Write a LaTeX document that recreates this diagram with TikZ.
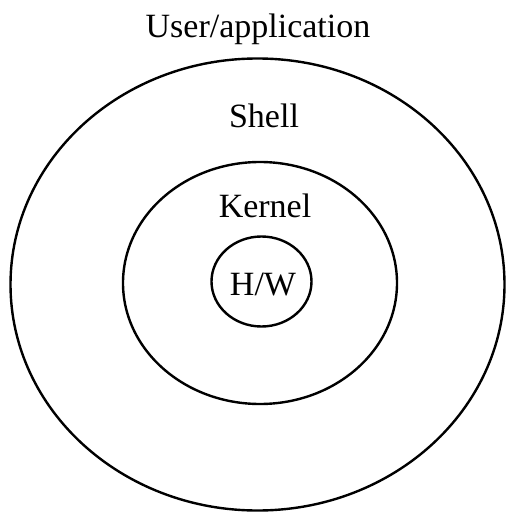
\documentclass[tikz,border=0pt]{standalone}
\usepackage{fontspec}
\setmainfont{Liberation Serif}
\usetikzlibrary{shapes.geometric}
\tikzset{layer/.style={draw=black, line width=2.4pt, ellipse, inner sep=0pt},
         lbl/.style={anchor=base, font=\fontsize{34}{36}\selectfont, inner sep=0pt}}

\begin{document}
\begin{tikzpicture}[x=1pt,y=-1pt]
          \useasboundingbox (0,0) rectangle (508,513);
          %layers, outside in
          \node[layer, minimum width=494pt, minimum height=452pt] (shellring) at (257.5,284.5) {};
          \node[layer, minimum width=274pt, minimum height=242pt] (kernelring) at (260,283) {};
          \node[layer, minimum width=100pt, minimum height=90pt] (hwring) at (261.5,281.5) {};
          %labels
          \node[lbl] (user) at (258,38) {User/application};
          \node[lbl] (shell) at (264,128) {Shell};
          \node[lbl] (kernel) at (265,217) {Kernel};
          \node[lbl] (hw) at (263,295) {H/W};
      \end{tikzpicture}
\end{document}
